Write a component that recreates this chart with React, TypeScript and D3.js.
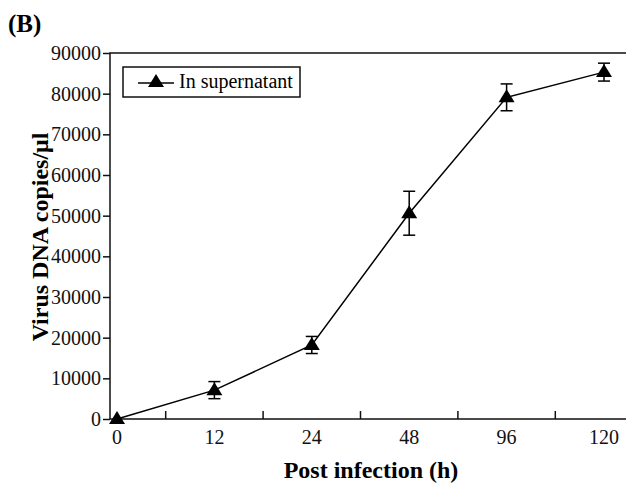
import {useEffect, useRef} from "react";
import * as d3 from "d3";

const hours = ["0", "12", "24", "48", "96", "120"];
const copies = [0, 7100, 18200, 50600, 79100, 85300];
const errors = [0, 2100, 2100, 5400, 3300, 2200];
const yTicks = [0, 10000, 20000, 30000, 40000, 50000, 60000, 70000, 80000, 90000];
const seriesName = "In supernatant";

const W = 626;
const H = 484;
const FONT = "'Liberation Serif', 'Times New Roman', serif";

export default function App() {
    const svgRef = useRef<SVGSVGElement>(null);

    useEffect(() => {
        if (!svgRef.current) return;
        const svg = d3.select(svgRef.current);
        svg.selectAll("*").remove();

        const left = 110, right = 626, top = 53, bottom = 419;

        const x = d3.scalePoint<string>()
            .domain(hours)
            .range([117, 604]);
        const y = d3.scaleLinear()
            .domain([0, 90000])
            .range([bottom, top]);

        // panel letter
        svg.append("text")
            .attr("x", 8).attr("y", 32)
            .attr("font-family", FONT).attr("font-weight", "bold").attr("font-size", 25)
            .text("(B)");

        // y axis
        const yAxis = svg.append("g")
            .attr("transform", `translate(${left},0)`)
            .call(d3.axisLeft(y).tickValues(yTicks).tickFormat(d3.format("d")).tickSize(7).tickPadding(2));
        yAxis.select(".domain").remove();
        yAxis.selectAll("line").attr("stroke", "#111").attr("stroke-width", 1.5);
        yAxis.selectAll("text")
            .attr("font-family", FONT).attr("font-size", 20).attr("fill", "#111");

        // x axis: labels under the points, ticks between categories pointing inward
        const step = x.step();
        const xg = svg.append("g").attr("transform", `translate(0,${bottom})`);
        xg.selectAll("text.lab")
            .data(hours)
            .join("text")
            .attr("class", "lab")
            .attr("x", d => x(d)!)
            .attr("y", 25)
            .attr("text-anchor", "middle")
            .attr("font-family", FONT).attr("font-size", 20).attr("fill", "#111")
            .text(d => d);
        xg.selectAll("line.tk")
            .data(hours.slice(1))
            .join("line")
            .attr("class", "tk")
            .attr("x1", d => x(d)! - step / 2)
            .attr("x2", d => x(d)! - step / 2)
            .attr("y1", 0).attr("y2", -8)
            .attr("stroke", "#111").attr("stroke-width", 1.5);

        // frame
        svg.append("path")
            .attr("d", `M${right},${top}H${left}V${bottom}H${right}`)
            .attr("fill", "none").attr("stroke", "#111").attr("stroke-width", 1.5);

        // axis titles
        svg.append("text")
            .attr("transform", `translate(48,237) rotate(-90)`)
            .attr("text-anchor", "middle")
            .attr("font-family", FONT).attr("font-weight", "bold").attr("font-size", 24)
            .text("Virus DNA copies/\u03bcl");
        svg.append("text")
            .attr("x", 371).attr("y", 478)
            .attr("text-anchor", "middle")
            .attr("font-family", FONT).attr("font-weight", "bold").attr("font-size", 24)
            .text("Post infection (h)");

        const pts = hours.map((h, i) => ({h, v: copies[i], e: errors[i]}));

        // line
        const line = d3.line<{h: string, v: number}>()
            .x(d => x(d.h)!)
            .y(d => y(d.v));
        svg.append("path")
            .datum(pts)
            .attr("d", line)
            .attr("fill", "none").attr("stroke", "#000").attr("stroke-width", 1.5);

        // error bars
        const eb = svg.append("g").attr("stroke", "#000").attr("stroke-width", 1.5);
        pts.filter(d => d.e > 0).forEach(d => {
            const cx = x(d.h)!;
            eb.append("line").attr("x1", cx).attr("x2", cx).attr("y1", y(d.v + d.e)).attr("y2", y(d.v - d.e));
            eb.append("line").attr("x1", cx - 6).attr("x2", cx + 6).attr("y1", y(d.v + d.e)).attr("y2", y(d.v + d.e));
            eb.append("line").attr("x1", cx - 6).attr("x2", cx + 6).attr("y1", y(d.v - d.e)).attr("y2", y(d.v - d.e));
        });

        // triangle markers
        const tri = "M0,-8L8,5L-8,5Z";
        svg.append("g")
            .selectAll("path")
            .data(pts)
            .join("path")
            .attr("transform", d => `translate(${x(d.h)},${y(d.v)})`)
            .attr("d", tri)
            .attr("fill", "#000");

        // legend
        const lg = svg.append("g");
        lg.append("rect")
            .attr("x", 123).attr("y", 67).attr("width", 177).attr("height", 30)
            .attr("fill", "#fff").attr("stroke", "#111").attr("stroke-width", 1.5);
        lg.append("line")
            .attr("x1", 138).attr("x2", 174).attr("y1", 83).attr("y2", 83)
            .attr("stroke", "#000").attr("stroke-width", 1.5);
        lg.append("path")
            .attr("transform", "translate(156,82)")
            .attr("d", tri).attr("fill", "#000");
        lg.append("text")
            .attr("x", 179).attr("y", 88)
            .attr("font-family", FONT).attr("font-size", 20)
            .text(seriesName);
    }, []);

    return (
        <svg ref={svgRef} width={W} height={H}
             style={{position: "absolute", left: 0, top: 0, background: "#fff"}}></svg>
    );
}
